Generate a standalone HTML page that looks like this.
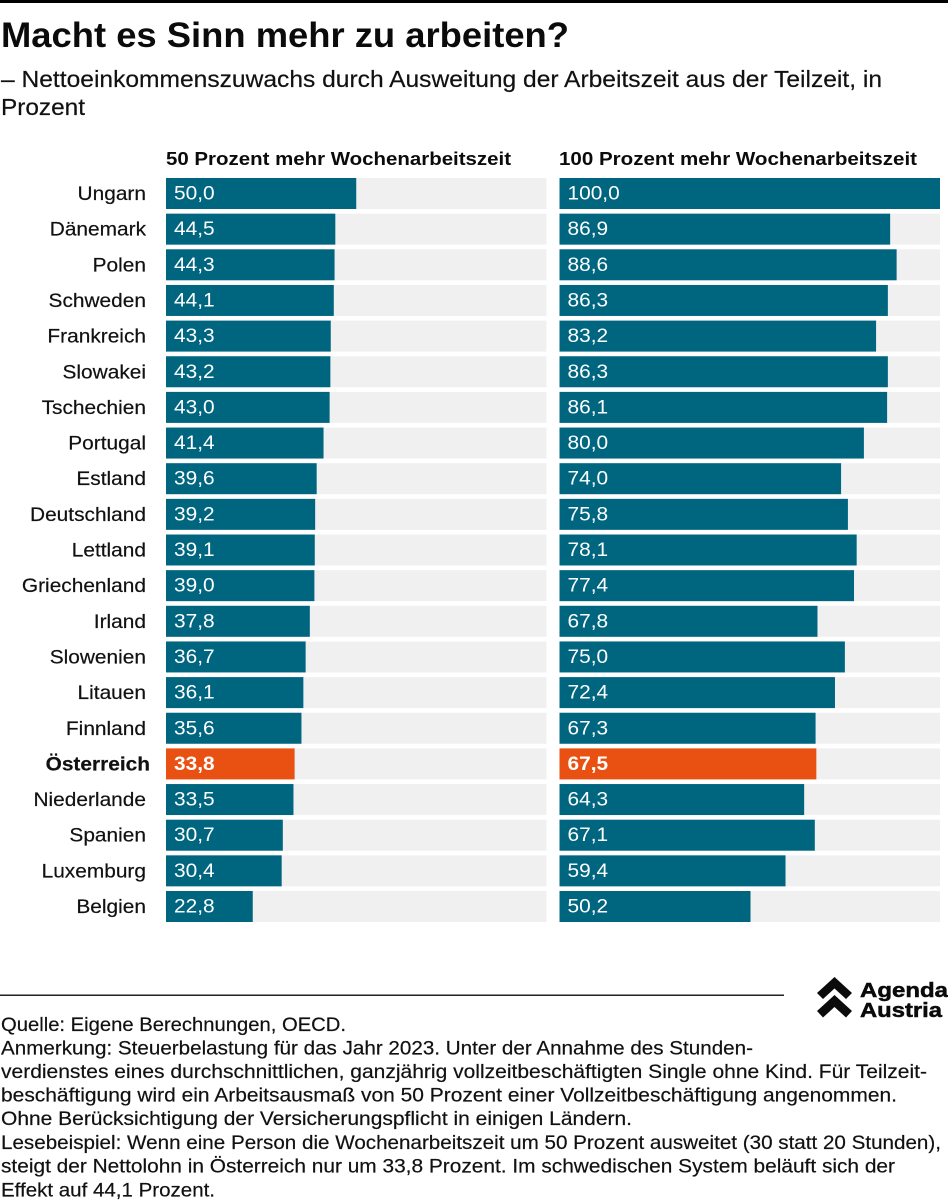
<!DOCTYPE html>
<html lang="de">
<head>
<meta charset="utf-8">
<title>Macht es Sinn mehr zu arbeiten?</title>
<style>
html,body{margin:0;padding:0;background:#fff;}
svg{display:block;font-family:"Liberation Sans",sans-serif;}
</style>
</head>
<body>
<svg id="chart" xmlns="http://www.w3.org/2000/svg" width="948" height="1200" viewBox="0 0 948 1200">
  <rect x="0" y="0" width="948" height="3" fill="#000"/>
  <text x="1" y="47" font-size="35.500" font-weight="700" fill="#0b0b0b" textLength="568" lengthAdjust="spacingAndGlyphs">Macht es Sinn mehr zu arbeiten?</text>
  <text x="1" y="87" font-size="23" fill="#111" stroke="#111" stroke-width="0.2" textLength="881" lengthAdjust="spacingAndGlyphs">– Nettoeinkommenszuwachs durch Ausweitung der Arbeitszeit aus der Teilzeit, in</text>
  <text x="1" y="115" font-size="23" fill="#111" stroke="#111" stroke-width="0.2" textLength="84" lengthAdjust="spacingAndGlyphs">Prozent</text>
  <text x="166" y="165" font-size="18.500" font-weight="700" fill="#0b0b0b" textLength="345" lengthAdjust="spacingAndGlyphs">50 Prozent mehr Wochenarbeitszeit</text>
  <text x="559" y="165" font-size="18.500" font-weight="700" fill="#0b0b0b" textLength="358" lengthAdjust="spacingAndGlyphs">100 Prozent mehr Wochenarbeitszeit</text>
  <g id="rows"></g>
  <rect x="0" y="994.5" width="784" height="1.5" fill="#222"/>
  <g>
    <path d="M817 993 L834.500 977 L852 993 L846 999 L834.500 988.500 L823 999 Z" fill="#0b0b0b"/>
    <path d="M817 1011 L834.500 995 L852 1011 L846 1017.500 L834.500 1007 L823 1017.500 Z" fill="#0b0b0b"/>
    <text x="860" y="997" font-size="20.500" font-weight="700" fill="#0b0b0b" stroke="#0b0b0b" stroke-width="0.5" textLength="88" lengthAdjust="spacingAndGlyphs">Agenda</text>
    <text x="860" y="1017" font-size="20.500" font-weight="700" fill="#0b0b0b" stroke="#0b0b0b" stroke-width="0.5" textLength="82" lengthAdjust="spacingAndGlyphs">Austria</text>
  </g>
  <g font-size="19.500" fill="#111" stroke="#111" stroke-width="0.2">
    <text x="1" y="1031" textLength="345" lengthAdjust="spacingAndGlyphs">Quelle: Eigene Berechnungen, OECD.</text>
    <text x="1" y="1054.500" textLength="752" lengthAdjust="spacingAndGlyphs">Anmerkung: Steuerbelastung für das Jahr 2023. Unter der Annahme des Stunden-</text>
    <text x="1" y="1078" textLength="926" lengthAdjust="spacingAndGlyphs">verdienstes eines durchschnittlichen, ganzjährig vollzeitbeschäftigten Single ohne Kind. Für Teilzeit-</text>
    <text x="1" y="1101.700" textLength="896" lengthAdjust="spacingAndGlyphs">beschäftigung wird ein Arbeitsausmaß von 50 Prozent einer Vollzeitbeschäftigung angenommen.</text>
    <text x="1" y="1125" textLength="631" lengthAdjust="spacingAndGlyphs">Ohne Berücksichtigung der Versicherungspflicht in einigen Ländern.</text>
    <text x="1" y="1149" textLength="940" lengthAdjust="spacingAndGlyphs">Lesebeispiel: Wenn eine Person die Wochenarbeitszeit um 50 Prozent ausweitet (30 statt 20 Stunden),</text>
    <text x="1" y="1172.700" textLength="894" lengthAdjust="spacingAndGlyphs">steigt der Nettolohn in Österreich nur um 33,8 Prozent. Im schwedischen System beläuft sich der</text>
    <text x="1" y="1196.500" textLength="214" lengthAdjust="spacingAndGlyphs">Effekt auf 44,1 Prozent.</text>
  </g>
</svg>
<script>
const countries = ["Ungarn","Dänemark","Polen","Schweden","Frankreich","Slowakei","Tschechien","Portugal","Estland","Deutschland","Lettland","Griechenland","Irland","Slowenien","Litauen","Finnland","Österreich","Niederlande","Spanien","Luxemburg","Belgien"];
const values50 = [50.0,44.5,44.3,44.1,43.3,43.2,43.0,41.4,39.6,39.2,39.1,39.0,37.8,36.7,36.1,35.6,33.8,33.5,30.7,30.4,22.8];
const values100 = [100.0,86.9,88.6,86.3,83.2,86.3,86.1,80.0,74.0,75.8,78.1,77.4,67.8,75.0,72.4,67.3,67.5,64.3,67.1,59.4,50.2];
const highlightCountry = "Österreich";

const NS = "http://www.w3.org/2000/svg";
const rowsGroup = document.getElementById("rows");
const axisMax = 100;
const panelWidth = 380.5;
const rowTop = 178;
const rowStep = 35.65;
const barHeight = 31;
const widen = 1.07;

function xScale(v) { return v / axisMax * panelWidth; }
function yScale(i) { return rowTop + i * rowStep; }
function formatValue(v) { return v.toFixed(1).replace(".", ","); }
function stretchText(el, factor) {
  el.setAttribute("textLength", el.getComputedTextLength() * factor);
  el.setAttribute("lengthAdjust", "spacingAndGlyphs");
}

function drawBar(panelX, panelKey, value, i, isHighlight) {
  const y = yScale(i);
  const track = document.createElementNS(NS, "rect");
  
  
  track.setAttribute("x", panelX);
  track.setAttribute("y", y);
  track.setAttribute("width", xScale(axisMax));
  track.setAttribute("height", barHeight);
  track.setAttribute("fill", "#f0f0f0");
  rowsGroup.appendChild(track);

  const bar = document.createElementNS(NS, "rect");
  
  
  bar.setAttribute("x", panelX);
  bar.setAttribute("y", y);
  bar.setAttribute("width", xScale(value));
  bar.setAttribute("height", barHeight);
  bar.setAttribute("fill", isHighlight ? "#e95113" : "#006680");
  rowsGroup.appendChild(bar);

  const label = document.createElementNS(NS, "text");
  
  
  label.setAttribute("x", panelX + 8);
  label.setAttribute("y", y + 21.5);
  label.setAttribute("font-size", "19.5");
  label.setAttribute("fill", "#fff");
  if (isHighlight) label.setAttribute("font-weight", "700");
  label.textContent = formatValue(value);
  rowsGroup.appendChild(label);
  stretchText(label, widen);
}

countries.forEach(function (name, i) {
  const isHighlight = name === highlightCountry;
  const label = document.createElementNS(NS, "text");
  
  
  label.setAttribute("x", isHighlight ? 150 : 146);
  label.setAttribute("y", yScale(i) + 22);
  label.setAttribute("text-anchor", "end");
  label.setAttribute("font-size", "19.5");
  label.setAttribute("fill", "#111");
  label.setAttribute("stroke", "#111");
  label.setAttribute("stroke-width", "0.2");
  if (isHighlight) label.setAttribute("font-weight", "700");
  label.textContent = name;
  rowsGroup.appendChild(label);
  stretchText(label, widen);

  drawBar(166, "50", values50[i], i, isHighlight);
  drawBar(559.5, "100", values100[i], i, isHighlight);
});
</script>
</body>
</html>
